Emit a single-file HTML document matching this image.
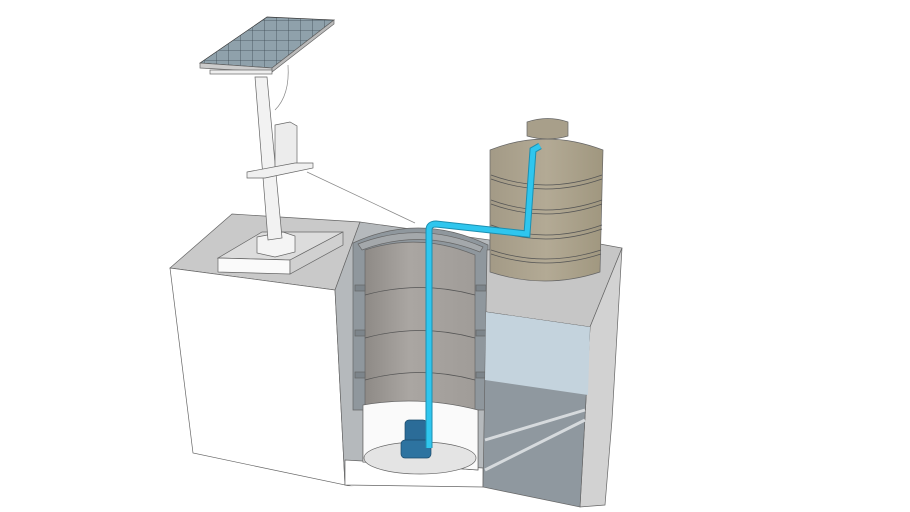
<!DOCTYPE html>
<html><head><meta charset="utf-8"><style>html,body{margin:0;padding:0;background:#fff;}svg{display:block}</style></head>
<body>
<svg width="910" height="512" viewBox="0 0 910 512" xmlns="http://www.w3.org/2000/svg">
<defs>
<pattern id="grid" width="12" height="10" patternUnits="userSpaceOnUse"><rect width="12" height="10" fill="#8fa1ab"/><path d="M0 0H12M0 0V10" stroke="#3d4a52" stroke-width="0.8"/></pattern>
<linearGradient id="cyl" x1="0" x2="1"><stop offset="0" stop-color="#8e8a86"/><stop offset="0.4" stop-color="#aaa6a2"/><stop offset="1" stop-color="#a09c98"/></linearGradient>
<linearGradient id="tank" x1="0" x2="1"><stop offset="0" stop-color="#a39a86"/><stop offset="0.5" stop-color="#b3aa95"/><stop offset="1" stop-color="#a0977f"/></linearGradient>
</defs>
<g stroke="#666" stroke-width="0.7">
<!-- left block -->
<polygon points="170,268 232,214 360,222 335,290" fill="#c9c9c9"/>
<polygon points="170,268 335,290 345,485 193,453" fill="#fff"/>
<path d="M345,485 L470,512" fill="none"/>
<!-- slab and pedestal -->
<polygon points="218,258 262,232 343,232 290,260" fill="#dcdcdc"/>
<polygon points="218,258 290,260 290,274 218,272" fill="#fafafa"/>
<polygon points="290,260 343,232 343,245 290,274" fill="#d0d0d0"/>
<polygon points="257,237 283,232 295,236 295,252 275,257 257,253" fill="#f4f4f4"/>
<!-- pole -->
<polygon points="255,77 267,77 282,238 268,240" fill="#f2f2f2"/>
<polygon points="275,125 290,122 297,126 297,170 280,172 275,168" fill="#ececec"/>
<polygon points="247,172 295,163 313,163 313,168 265,178 247,178" fill="#f0f0f0"/>
<path d="M307,172 L415,223" fill="none" stroke="#888"/>
<path d="M288,65 Q290,95 275,110" fill="none" stroke="#888"/>
<!-- solar panel -->
<polygon points="200,63 267,17 334,20 272,68" fill="url(#grid)" stroke="#333"/>
<polygon points="200,63 272,68 272,72 200,68" fill="#ccc"/>
<polygon points="272,68 334,20 334,24 272,72" fill="#bbb"/>
<rect x="210" y="70" width="62" height="4" fill="#eee"/>
<!-- well section -->
<polygon points="335,290 360,222 490,240 485,470 345,485" fill="#b5b9bc"/>
<polygon points="345,460 483,468 483,487 345,485" fill="#fff"/>
<polygon points="345,486 482,488 470,512 345,512" fill="#fff" stroke="none"/>
<!-- cylinder -->
<path d="M353,243 Q420,212 488,245 L487,410 L478,410 L478,470 L363,462 L363,410 L353,410 Z" fill="#8f979d"/>
<path d="M358,244 Q420,220 483,247 L480,252 Q420,228 362,250 Z" fill="#a4a8ab"/>
<path d="M365,250 Q420,232 475,255 L475,410 L365,410 Z" fill="url(#cyl)"/>
<path d="M363,405 Q420,395 478,410 L478,470 L363,462 Z" fill="#fafafa"/>
<ellipse cx="420" cy="458" rx="56" ry="16" fill="#e4e4e4"/>
<path d="M365,295 Q420,280 475,295 M365,338 Q420,323 475,338 M365,380 Q420,365 475,380" fill="none" stroke="#555"/>
<g fill="#7d858b"><rect x="355" y="285" width="10" height="6"/><rect x="355" y="330" width="10" height="6"/><rect x="355" y="372" width="10" height="6"/><rect x="476" y="285" width="10" height="6"/><rect x="476" y="330" width="10" height="6"/><rect x="476" y="372" width="10" height="6"/></g>
<!-- pump -->
<rect x="405" y="420" width="22" height="30" rx="4" fill="#2b6c98" stroke="#1b4a6a"/>
<rect x="401" y="440" width="30" height="18" rx="4" fill="#2d73a0" stroke="#1b4a6a"/>
<!-- right block -->
<polygon points="487,250 600,244 622,248 590,327 486,312" fill="#c6c6c6"/>
<polygon points="590,327 622,248 612,420 605,505 580,507" fill="#d2d2d2"/>
<polygon points="486,312 590,327 580,507 483,487" fill="#8f989f"/>
<polygon points="486,312 590,327 588,395 485,380" fill="#c4d3dd" stroke="none"/>
<path d="M485,440 L585,410 M485,470 L585,420" stroke="#d6dadd" stroke-width="3"/>
<!-- tank -->
<path d="M490,150 Q545,128 603,150 L600,272 Q545,290 490,272 Z" fill="url(#tank)"/>
<path d="M527,122 Q548,115 568,122 L568,136 Q548,142 527,136 Z" fill="#a89f8a"/>
<path d="M491,175 Q545,195 602,175 M491,179 Q545,199 602,179 M491,200 Q545,220 602,200 M491,204 Q545,224 602,204 M491,225 Q545,245 602,225 M491,229 Q545,249 602,229 M491,250 Q545,268 601,250 M491,254 Q545,272 601,254" fill="none" stroke="#555"/>
</g>
<!-- pipe -->
<path d="M429,448 L429,230 Q429,224 436,224 L527,234 L533,150 L540,146" fill="none" stroke="#1c8fb0" stroke-width="7"/>
<path d="M429,448 L429,230 Q429,224 436,224 L527,234 L533,150 L540,146" fill="none" stroke="#2fc6ee" stroke-width="5"/>
</svg>
</body></html>
